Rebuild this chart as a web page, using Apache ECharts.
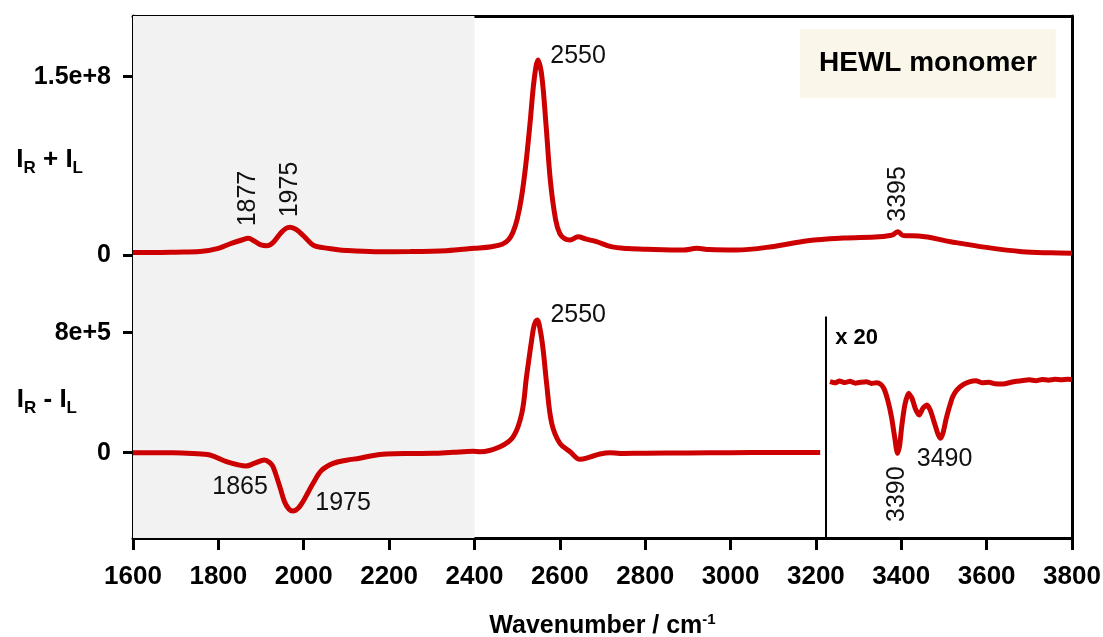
<!DOCTYPE html>
<html><head><meta charset="utf-8">
<script src="https://cdn.jsdelivr.net/npm/echarts@6/dist/echarts.min.js"></script>
<style>html,body{margin:0;padding:0;background:#fff}#c{width:1103px;height:637px}</style>
</head><body><div id="c"></div>
<script>
// ---------- data ----------
const xMin = 1600, xMax = 3800, xStep = 200;
const topTickValues = [0, 1.5e8];
const topTickLabels = ['0', '1.5e+8'];
const botTickValues = [0, 8e5];
const botTickLabels = ['0', '8e+5'];
const shadedRange = [1600, 2400];
const insetStart = 3224;

// IR + IL
const sumX = [1600,1650,1700,1757,1800,1832,1855,1870,1885,1900,1913,1928,1945,1958,1968,1982,2000,2022,2045,2069,2100,2167,2250,2334,2400,2440,2465,2480,2490,2500,2510,2520,2530,2540,2549,2558,2568,2578,2590,2600,2612,2624,2643,2660,2686,2720,2760,2804,2889,2921,2950,3013,3097,3181,3265,3348,3380,3392,3405,3441,3516,3599,3683,3750,3800];
const sumY = [2.1e6,2.1e6,2.4e6,2.9e6,5.6e6,10e6,12.6e6,14e6,11.5e6,8.5e6,7.8e6,10.5e6,18e6,22.3e6,23.3e6,21.5e6,16e6,8.4e6,6.2e6,5.0e6,3.8e6,2.8e6,2.9e6,3.6e6,5.6e6,7e6,9e6,13e6,19e6,30e6,48e6,75e6,110e6,148e6,164e6,150e6,108e6,62e6,30e6,18e6,13.5e6,12.6e6,15.4e6,13.5e6,11.2e6,7e6,5.4e6,4.8e6,4.2e6,5.6e6,4.6e6,4.2e6,7e6,12e6,14.3e6,15.4e6,17e6,19.6e6,16.3e6,16e6,11.2e6,6.4e6,2.8e6,1.8e6,1.5e6];

// IR - IL
const difX = [1600,1694,1740,1780,1819,1845,1865,1885,1908,1920,1928,1944,1955,1965,1975,1987,1998,2010,2022,2041,2069,2100,2131,2160,2193,2250,2303,2350,2397,2413,2460,2491,2511,2522,2534,2540,2547,2554,2561,2569,2581,2600,2624,2647,2670,2694,2718,2741,2800,2900,3000,3100,3210];
const difY = [0,0,-5e3,-15e3,-60e3,-80e3,-88.7e3,-70e3,-48.7e3,-65e3,-93e3,-227e3,-327e3,-375e3,-389e3,-370e3,-327e3,-265e3,-204e3,-120e3,-71e3,-50e3,-37e3,-20e3,-9e3,-5e3,-4e3,3e3,9e3,6.7e3,40e3,107e3,263e3,507e3,751e3,850e3,885e3,820e3,685e3,463e3,196e3,63e3,6.7e3,-44e3,-30e3,-8.9e3,0,-5e3,-3e3,-2e3,0,1e3,1e3];

// inset (IR - IL, displayed x 20)
const insetX = [3233,3245,3255,3268,3280,3292,3305,3318,3330,3342,3352,3360,3368,3377,3384,3391,3396,3401,3408,3417,3425,3433,3442,3451,3460,3468,3479,3486,3492,3498,3505,3512,3520,3530,3545,3561,3575,3590,3605,3620,3639,3655,3670,3685,3700,3715,3730,3745,3760,3775,3790,3800];
const insetY = [0,-400,200,-300,100,-500,-200,0,-600,-400,-900,-2500,-6000,-11700,-18000,-23900,-21500,-15000,-8000,-3900,-5500,-9000,-11100,-8800,-7800,-9500,-14400,-17500,-18900,-17000,-12500,-8800,-5200,-2800,-1000,0,300,-400,-200,-700,-800,-300,100,400,600,300,700,500,800,600,800,700];

// peak annotations: [label, wavenumber, value]
const sumPeakLabels = [['2550',2549,164e6],['1877',1870,14e6],['1975',1968,23.3e6],['3395',3392,19.6e6]];
const difPeakLabels = [['2550',2547,885e3],['1865',1865,-88.7e3],['1975',1975,-389e3]];
const insetPeakLabels = [['3390',3391,-23900],['3490',3492,-18900]];
const insetTopValue = 21700;
const insetScaleLabel = 'x 20';

// ---------- chart ----------
const FONT = 'Liberation Sans, Arial, sans-serif';
const RED = '#CC0000';
const zip = (a, b) => a.map((v, i) => [v, b[i]]);

const mpLabelBase = {show: true, position: 'inside', color: '#111', fontSize: 25, fontFamily: FONT, formatter: p => p.name};
const mpBase = {symbol: 'circle', symbolSize: 1, itemStyle: {color: 'rgba(0,0,0,0)'}, label: mpLabelBase, silent: true};

const sumLabelStyle = [
  {offset: [40, -4]},
  {rotate: 90, align: 'left', padding: [0, 0, 6, 12]},
  {rotate: 90, align: 'left', padding: [0, 0, 4, 10]},
  {rotate: 90, align: 'left', padding: [0, 0, 5, 10]}
];
const difLabelStyle = [
  {offset: [41, -5]},
  {offset: [-6, 21]},
  {offset: [50, -8]}
];
const insetLabelStyle = [
  {rotate: 90, align: 'right', padding: [3, 13, 0, 0]},
  {offset: [4, 21]}
];

const axisLineStyle = {color: '#000', width: 3};
const ySubName = (sign) => '{a|I}{s|R}{a| ' + sign + ' I}{s|L}';
const ySubRich = {
  a: {fontSize: 26, fontWeight: 'bold', fontFamily: FONT, color: '#000'},
  s: {fontSize: 17, fontWeight: 'bold', fontFamily: FONT, color: '#000', padding: [16, 0, 0, 0]}
};

const option = {
  animation: false,
  backgroundColor: '#fff',
  title: {
    text: 'HEWL monomer', left: 800, top: 29,
    padding: [20, 19, 21, 19], backgroundColor: '#FBF6EA',
    textStyle: {fontSize: 28, fontWeight: 'bold', color: '#000', fontFamily: FONT}
  },
  grid: [
    {left: 133, right: 31, top: 16, height: 284, containLabel: false, outerBoundsMode: 'none'},
    {left: 133, right: 31, top: 300, height: 238, containLabel: false, outerBoundsMode: 'none'}
  ],
  xAxis: [
    {gridIndex: 0, type: 'value', min: xMin, max: xMax, interval: xStep, position: 'top',
     axisLine: {show: true, onZero: false, lineStyle: axisLineStyle},
     axisTick: {show: false}, axisLabel: {show: false}, splitLine: {show: false}},
    {gridIndex: 1, type: 'value', min: xMin, max: xMax, interval: xStep, position: 'bottom',
     axisLine: {show: true, onZero: false, lineStyle: axisLineStyle},
     axisTick: {show: true, inside: false, length: 12, lineStyle: axisLineStyle},
     axisLabel: {formatter: v => String(v), fontSize: 26, fontWeight: 'bold', color: '#000', fontFamily: FONT, margin: 26},
     splitLine: {show: false},
     name: '{t|Wavenumber / cm}{s|-1}', nameLocation: 'middle', nameGap: 74, nameMoveOverlap: false,
     nameTextStyle: {rich: {
       t: {fontSize: 25, fontWeight: 'bold', fontFamily: FONT, color: '#000'},
       s: {fontSize: 15, fontWeight: 'bold', fontFamily: FONT, color: '#000', padding: [0, 0, 14, 0]}
     }}}
  ],
  yAxis: [
    {gridIndex: 0, type: 'value', min: -3.786e7, max: 2.0107e8, position: 'left',
     axisLine: {show: true, onZero: false, lineStyle: axisLineStyle},
     axisTick: {show: true, inside: false, length: 10, customValues: topTickValues, lineStyle: axisLineStyle},
     axisLabel: {customValues: topTickValues, formatter: v => topTickLabels[topTickValues.indexOf(v)],
                 fontSize: 25, fontWeight: 'bold', color: '#000', fontFamily: FONT, margin: 22},
     splitLine: {show: false},
     name: ySubName('+'), nameLocation: 'middle', nameRotate: 0, nameGap: 50, nameMoveOverlap: false,
     nameTextStyle: {rich: ySubRich, padding: [4, 0, 0, 0]}},
    {gridIndex: 1, type: 'value', min: -5.687e5, max: 1.018e6, position: 'left',
     axisLine: {show: true, onZero: false, lineStyle: axisLineStyle},
     axisTick: {show: true, inside: false, length: 10, customValues: botTickValues, lineStyle: axisLineStyle},
     axisLabel: {customValues: botTickValues, formatter: v => botTickLabels[botTickValues.indexOf(v)],
                 fontSize: 25, fontWeight: 'bold', color: '#000', fontFamily: FONT, margin: 22},
     splitLine: {show: false},
     name: ySubName('-'), nameLocation: 'middle', nameRotate: 0, nameGap: 56, nameMoveOverlap: false,
     nameTextStyle: {rich: ySubRich, padding: [0, 0, 38, 0]}},
    {gridIndex: 0, type: 'value', min: 0, max: 1, position: 'right',
     axisLine: {show: true, onZero: false, lineStyle: axisLineStyle},
     axisTick: {show: false}, axisLabel: {show: false}, splitLine: {show: false}},
    {gridIndex: 1, type: 'value', min: 0, max: 1, position: 'right',
     axisLine: {show: true, onZero: false, lineStyle: axisLineStyle},
     axisTick: {show: false}, axisLabel: {show: false}, splitLine: {show: false}},
    {gridIndex: 1, type: 'value', min: -52100, max: 27200, show: false, position: 'right'}
  ],
  series: [
    {type: 'line', xAxisIndex: 0, yAxisIndex: 0, data: zip(sumX, sumY),
     showSymbol: false, smooth: 0.35, lineStyle: {color: RED, width: 5}, itemStyle: {color: RED},
     markArea: {silent: true, itemStyle: {color: '#F2F2F2'}, data: [[{xAxis: shadedRange[0]}, {xAxis: shadedRange[1]}]]},
     markPoint: Object.assign({}, mpBase, {data: sumPeakLabels.map((p, i) => ({name: p[0], coord: [p[1], p[2]], label: sumLabelStyle[i]}))})},
    {type: 'line', xAxisIndex: 1, yAxisIndex: 1, data: zip(difX, difY),
     showSymbol: false, smooth: 0.35, lineStyle: {color: RED, width: 5}, itemStyle: {color: RED},
     markArea: {silent: true, itemStyle: {color: '#F2F2F2'}, data: [[{xAxis: shadedRange[0]}, {xAxis: shadedRange[1]}]]},
     markPoint: Object.assign({}, mpBase, {data: difPeakLabels.map((p, i) => ({name: p[0], coord: [p[1], p[2]], label: difLabelStyle[i]}))})},
    {type: 'line', xAxisIndex: 1, yAxisIndex: 4, data: zip(insetX, insetY),
     showSymbol: false, smooth: 0.2, lineStyle: {color: RED, width: 5}, itemStyle: {color: RED},
     markLine: {silent: true, symbol: 'none', label: {show: false}, lineStyle: {color: '#000', width: 2, type: 'solid'},
                data: [[{coord: [insetStart, insetTopValue]}, {coord: [insetStart, -52100]}]]},
     markPoint: Object.assign({}, mpBase, {data: insetPeakLabels.map((p, i) => ({name: p[0], coord: [p[1], p[2]], label: insetLabelStyle[i]}))
       .concat([{name: insetScaleLabel, coord: [insetStart, insetTopValue],
                 label: {align: 'left', offset: [9, 21], fontWeight: 'bold', fontSize: 22, color: '#000'}}])})}
  ]
};
echarts.init(document.getElementById('c')).setOption(option);
</script></body></html>
